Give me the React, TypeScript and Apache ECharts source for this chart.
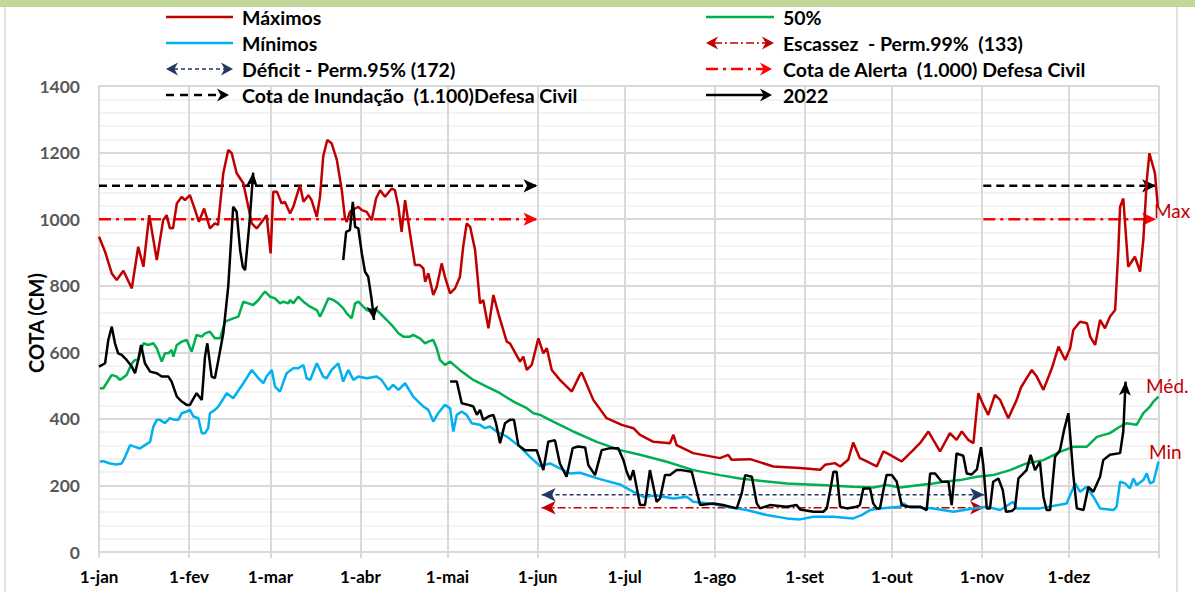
import React, { useEffect, useRef } from "react";
import * as echarts from "echarts";

// ---------- axis / categories ----------
const monthStarts = [0, 31, 59, 90, 120, 151, 181, 212, 243, 273, 304, 334];
const monthLabels = ["1-jan", "1-fev", "1-mar", "1-abr", "1-mai", "1-jun", "1-jul", "1-ago", "1-set", "1-out", "1-nov", "1-dez"];
const yearDays = 365;
const yMax = 1400;
const yStep = 200;

// ---------- series values: [day of year, cota (cm)] ----------
const maximos: [number, number][] = [
  [0, 947], [2.1, 902], [4.4, 837], [6.1, 817], [8.4, 845], [11.3, 792], [13.5, 917], [15.3, 857], [17.3, 1012], [19.9, 877],
  [22.1, 997], [23.3, 1012], [24.4, 973], [25.5, 973], [26.8, 1047], [28.5, 1067], [29.6, 1057], [31.3, 1072], [33.1, 1027], [34.4, 992],
  [36.2, 1032], [38.2, 972], [39.9, 987], [41, 983], [42.8, 1138], [44.5, 1208], [45.7, 1198], [47.4, 1138], [49.7, 1108], [51.4, 1037],
  [52.6, 987], [54.3, 972], [56.1, 992], [57.7, 1012], [59.1, 897], [60, 1082], [61.3, 1082], [62.9, 1047], [64, 1052], [65.8, 1017],
  [66.9, 1037], [69.2, 1102], [70.4, 1052], [72.1, 1072], [73.2, 1057], [75, 1007], [76.1, 1067], [77.2, 1188], [78.6, 1238], [80.1, 1228],
  [81.9, 1178], [83.6, 1087], [84.7, 1002], [85.3, 992], [86.4, 1022], [88.2, 1032], [89.3, 1037], [90.5, 1027], [92.2, 1022], [93.9, 997],
  [95.4, 1062], [96.8, 1087], [98.5, 1067], [100.8, 1092], [101.9, 1087], [103.1, 1037], [104.2, 962], [105.4, 1057], [107.1, 957], [108.8, 862],
  [110.5, 862], [111.7, 852], [112.3, 812], [113.4, 837], [115.1, 772], [116.3, 797], [118, 867], [119.1, 827], [120.9, 777], [122.6, 792],
  [124.3, 827], [125.4, 917], [126.6, 987], [127.8, 977], [129.5, 907], [131.2, 747], [132.3, 757], [134.1, 672], [135.8, 772], [137.5, 717],
  [140.4, 632], [141.5, 627], [145, 572], [146.1, 587], [147.3, 547], [149, 562], [151.3, 642], [153, 597], [154.2, 612], [155.9, 547],
  [158.7, 517], [162.8, 482], [165.6, 532], [166.2, 539], [170.2, 457], [174.8, 402], [180, 382], [184, 372], [186.3, 352], [190.9, 331],
  [196.6, 327], [197.8, 352], [198.9, 321], [204.6, 297], [213.8, 282], [216.7, 292], [217.8, 277], [224.2, 279], [232.2, 257], [241.4, 252],
  [248.3, 247], [250, 262], [253.4, 267], [255.2, 257], [258, 277], [259.7, 329], [262, 282], [264.4, 272], [267.8, 257], [270.1, 302],
  [272.4, 292], [276.4, 272], [279.9, 302], [282.7, 327], [285.6, 362], [289.6, 302], [293, 357], [295.3, 337], [297.1, 362], [299.3, 337],
  [301.1, 327], [302.8, 477], [304.5, 442], [306.2, 412], [308.5, 472], [310.3, 457], [313.1, 402], [316, 457], [317.5, 495], [321.2, 547],
  [322.9, 527], [325.2, 487], [328.1, 552], [330.4, 617], [332.7, 577], [334.4, 612], [335.5, 667], [337.8, 692], [340.2, 687], [341.3, 647],
  [343, 622], [344.7, 697], [346.4, 672], [348.1, 707], [349.9, 727], [351, 907], [351.6, 1037], [352.7, 1062], [354.4, 857], [356.7, 887],
  [358.5, 842], [359.6, 937], [360.8, 1117], [361.7, 1198], [363.6, 1138], [364.6, 1037],
];

const minimos: [number, number][] = [
  [0.3, 271], [1.5, 273], [3.8, 266], [6.1, 263], [7.8, 266], [9, 286], [10.7, 321], [12.4, 316], [14.1, 311], [15.8, 321],
  [17.6, 331], [18.7, 376], [19.9, 397], [21, 397], [22.7, 387], [24.4, 402], [26.2, 397], [27.3, 397], [28.5, 417], [30.2, 422],
  [31.3, 427], [32.5, 407], [34.2, 402], [35.4, 357], [36.5, 357], [37.6, 372], [38.2, 417], [39.9, 427], [41.1, 437], [44, 477],
  [46.2, 462], [49.7, 507], [52.6, 547], [54.9, 522], [56.6, 507], [57.7, 527], [59.5, 547], [60.6, 497], [62.3, 482], [64.6, 537],
  [66.9, 552], [68.6, 552], [70.4, 562], [71.5, 522], [72.7, 517], [75, 567], [77.2, 527], [78.4, 522], [80.1, 547], [82.4, 567],
  [84.1, 512], [85.8, 547], [87.6, 517], [89.3, 527], [92.2, 522], [95.6, 527], [97.3, 517], [99.6, 487], [101.3, 502], [103.1, 487],
  [105.4, 507], [108.2, 467], [111.7, 437], [113.4, 427], [115.1, 392], [116.8, 417], [119.1, 442], [120.9, 432], [122, 362], [123.2, 412],
  [124.9, 422], [126.6, 412], [128.3, 387], [131.2, 382], [132.9, 372], [134.6, 377], [136.9, 362], [140.4, 347], [145, 316], [148.4, 286],
  [151.9, 258], [155.3, 266], [158.7, 251], [162.2, 236], [165.6, 238], [172.5, 219], [179.4, 203], [182.9, 186], [187.4, 166], [192, 170],
  [197.8, 161], [202.4, 166], [204.6, 151], [210.4, 146], [216.1, 136], [223, 126], [229.9, 111], [236.8, 101], [241.4, 98], [246, 106],
  [252.9, 106], [259.7, 101], [262.6, 111], [265.5, 126], [268.9, 131], [275.8, 136], [277, 146], [278.7, 136], [287.3, 131], [294.2, 121],
  [301.1, 131], [305.7, 136], [310.3, 126], [314.8, 151], [316, 131], [324, 131], [333.2, 146], [336.1, 206], [337.8, 181], [340.1, 196],
  [342.4, 166], [344.7, 131], [349.3, 126], [350.4, 136], [351.6, 211], [353.3, 206], [355, 191], [356.2, 221], [357.3, 201], [359.6, 216],
  [360.8, 236], [361.9, 206], [363.1, 211], [364.8, 271],
];

const mediana: [number, number][] = [
  [0.3, 492], [1.5, 492], [4.4, 532], [6.1, 527], [7.2, 517], [9.5, 532], [11.3, 567], [12.4, 577], [13.5, 577], [15.3, 627],
  [17, 622], [18.7, 627], [19.9, 612], [21.6, 572], [22.7, 597], [23.9, 597], [25, 607], [25.6, 587], [26.8, 622], [28.5, 632],
  [30.2, 637], [31.9, 602], [33.6, 652], [35.4, 647], [36.5, 657], [38.2, 662], [39.9, 642], [41.7, 642], [43.4, 692], [46.2, 702],
  [48, 707], [49.7, 752], [51.4, 747], [53.1, 742], [54.9, 757], [56.6, 777], [57.2, 782], [58.9, 767], [60.6, 762], [62.3, 747],
  [63.5, 752], [65.2, 747], [65.8, 757], [66.9, 747], [68.6, 767], [70.4, 752], [72.7, 737], [75, 727], [76.1, 707], [77.2, 727],
  [79, 762], [80.7, 757], [82.4, 747], [84.1, 732], [85.3, 717], [87, 702], [88.2, 747], [89.3, 752], [91, 737], [92.2, 727],
  [93.9, 722], [95.6, 727], [96.8, 717], [99.1, 697], [101.3, 677], [103.1, 657], [104.8, 647], [107.1, 647], [108.2, 652], [110.5, 642],
  [112.3, 627], [113.4, 632], [115.1, 637], [116.3, 612], [117.4, 577], [119.1, 562], [120.9, 572], [124.9, 542], [128.9, 517], [133.5, 497],
  [138.1, 477], [142.7, 452], [147.3, 432], [149.6, 417], [151.9, 412], [156.4, 392], [161, 372], [163.3, 362], [171.4, 331], [179.4, 306],
  [186.3, 292], [195.5, 271], [204.6, 246], [213.8, 231], [220.7, 221], [225.3, 216], [236.8, 206], [248.3, 201], [259.7, 196], [266.6, 194],
  [271.2, 201], [275.8, 194], [282.7, 201], [287.3, 206], [290.8, 211], [296.5, 216], [302.3, 226], [307.9, 231], [313.7, 246], [319.4, 266],
  [325.2, 276], [330.9, 301], [335.5, 316], [340.1, 316], [343.6, 346], [348.1, 357], [351.6, 377], [353.9, 387], [357.3, 382], [359.6, 417],
  [361.9, 437], [363.1, 452], [364.8, 467],
];

const ano2022a: [number, number][] = [
  [0, 557], [2.1, 567], [3.2, 637], [4.4, 677], [5.5, 627], [6.6, 597], [7.8, 592], [9.5, 577], [11.3, 557], [12.4, 537],
  [13.5, 577], [14.5, 622], [15.8, 567], [17.6, 542], [19.9, 537], [21.6, 527], [23.9, 527], [25, 512], [26.8, 467], [28.5, 452],
  [30.2, 442], [31.3, 442], [33.6, 477], [35.4, 457], [36.5, 587], [37.3, 627], [38.8, 527], [39.9, 522], [41.1, 577], [42.8, 657],
  [44.5, 797], [46.2, 1037], [47.4, 1022], [48.6, 907], [49.5, 857], [50.3, 847], [51.8, 987], [53.1, 1140],
];

const ano2022b: [number, number][] = [
  [84.1, 877], [85.1, 962], [86.4, 967], [87.4, 1052], [88.2, 977], [89.3, 972], [90.5, 897], [91.6, 842], [92.7, 827], [93.9, 757],
  [94.7, 697],
];

const ano2022c: [number, number][] = [
  [120.9, 512], [123.2, 512], [124.9, 447], [127.2, 442], [128.9, 437], [130.1, 412], [131.2, 427], [132.3, 397], [134.1, 407], [135.8, 412],
  [136.7, 387], [138.1, 327], [139.8, 387], [141.5, 397], [142.9, 397], [144.4, 321], [146.7, 306], [150.7, 306], [153, 246], [154.7, 331],
  [157, 336], [158.7, 266], [161, 226], [163.1, 312], [165, 317], [167.4, 314], [168.5, 261], [170.8, 231], [173.1, 306], [176, 312],
  [178.8, 312], [180.6, 276], [181.7, 241], [182.9, 216], [184, 246], [186.3, 141], [188, 141], [189.7, 246], [192, 151], [193.2, 161],
  [194.9, 231], [196.6, 231], [198.9, 246], [200.6, 246], [204.1, 241], [207, 141], [211.6, 146], [214.9, 141], [219.6, 131], [221.3, 176],
  [222.5, 231], [224.8, 226], [226.5, 146], [227.6, 131], [231, 141], [236.8, 136], [240.2, 141], [241.4, 128], [246, 121], [249.4, 121],
  [250.6, 131], [251.7, 181], [252.9, 241], [254, 241], [255.2, 136], [257.5, 131], [260.9, 136], [262, 141], [263.2, 191], [265.5, 191],
  [266.6, 146], [267.8, 131], [268.9, 131], [270.1, 186], [271.2, 231], [273, 231], [274.7, 211], [276.4, 141], [278.7, 136], [282.7, 136],
  [285, 126], [286.2, 236], [287.9, 236], [290.2, 211], [292.5, 211], [293.6, 141], [295.3, 296], [297.6, 289], [298.8, 236], [300.5, 233],
  [302.3, 248], [303.7, 315], [304.5, 261], [305.7, 131], [306.8, 131], [307.9, 211], [309.7, 221], [311.2, 186], [312.3, 121], [314.3, 123],
  [315.4, 131], [316.6, 221], [318.3, 236], [319.4, 246], [320.8, 292], [322.3, 246], [324, 271], [325.2, 166], [326.3, 126], [327.5, 126],
  [329.2, 286], [330.9, 306], [332.3, 366], [333.8, 417], [335.5, 231], [336.7, 131], [339, 126], [340.7, 196], [342.4, 181], [344.7, 226],
  [345.8, 276], [348.1, 292], [351.6, 297], [352.7, 362], [353.5, 512],
];

// reference levels (cm) and their day spans
const cotaInundacao = 1100;
const cotaAlerta = 1000;
const deficit95 = 172;
const escassez99 = 133;
const cheiaSpans: [number, number][] = [[0, 151], [304.5, 364]];
const secaSpan: [number, number] = [152.4, 304.8];

// ---------- styles ----------
const FONT = "Lato";
const C_MAX = "#c00000";
const C_MIN = "#00b0f0";
const C_MED = "#00b050";
const C_DEF = "#1f3864";
const C_ESC = "#c00000";
const C_ALE = "#ff0000";
const DASH_DOT = [12, 5, 3, 5];

function levelLine(name: string, y: number, x0: number, x1: number, color: string, width: number, dash: any, startArrow: boolean, size: [number, number]) {
  return {
    type: "line",
    name,
    silent: true,
    z: 2,
    symbol: "none",
    showSymbol: true,
    lineStyle: { color, width, type: dash },
    itemStyle: { color },
    data: [
      startArrow
        ? { value: [x0, y], symbol: "arrow", symbolSize: size, symbolRotate: 90 }
        : { value: [x0, y], symbol: "none" },
      { value: [x1, y], symbol: "arrow", symbolSize: size, symbolRotate: -90 },
    ],
  };
}

function segment2022(data: [number, number][], rotate: number) {
  return {
    type: "line",
    name: "2022",
    z: 5,
    symbol: "none",
    showSymbol: true,
    lineStyle: { color: "#000", width: 2.5 },
    itemStyle: { color: "#000" },
    data: data.map((p, i) =>
      i === data.length - 1
        ? { value: p, symbol: "arrow", symbolSize: [9, 14], symbolRotate: rotate }
        : { value: p, symbol: "none" }
    ),
  };
}

function head(tipX: number, y: number, dir: number, color: string, len = 12, half = 6.5) {
  return {
    type: "polygon",
    silent: true,
    z: 100,
    shape: {
      points: [
        [tipX, y],
        [tipX - dir * len, y - half],
        [tipX - dir * len * 0.7, y],
        [tipX - dir * len, y + half],
      ],
    },
    style: { fill: color },
  };
}

function seg(x1: number, x2: number, y: number, color: string, width: number, dash?: number[]) {
  return {
    type: "line",
    silent: true,
    z: 100,
    shape: { x1, y1: y, x2, y2: y },
    style: { stroke: color, lineWidth: width, lineDash: dash },
  };
}

function legendText(x: number, y: number, text: string) {
  return {
    type: "text",
    x,
    y,
    silent: true,
    z: 100,
    style: { text, fill: "#000", fontFamily: FONT, fontWeight: "bold", fontSize: 19.5, align: "left", verticalAlign: "middle" },
  };
}

function sideLabel(x: number, y: number, text: string) {
  return {
    type: "text",
    x,
    y,
    silent: true,
    z: 100,
    style: { text, fill: C_MAX, fontFamily: FONT, fontSize: 19, align: "left", verticalAlign: "middle" },
  };
}

const rowsY = [17, 43, 69, 95];
const LX0 = 166, LX1 = 233, LT = 242;
const RX0 = 706, RX1 = 774, RT = 783;

const graphics: any[] = [
  { type: "rect", silent: true, shape: { x: 0, y: 0, width: 1195, height: 7 }, style: { fill: "#c4d79b" } },
  { type: "line", silent: true, shape: { x1: 5, y1: 7, x2: 5, y2: 592 }, style: { stroke: "#d9d9d9", lineWidth: 1.5 } },
  { type: "line", silent: true, shape: { x1: 1177, y1: 7, x2: 1177, y2: 592 }, style: { stroke: "#d9d9d9", lineWidth: 1.5 } },
  // left legend column
  seg(LX0, LX1, rowsY[0], C_MAX, 2.5),
  legendText(LT, rowsY[0], "Máximos"),
  seg(LX0, LX1, rowsY[1], C_MIN, 2.5),
  legendText(LT, rowsY[1], "Mínimos"),
  seg(LX0 + 8, LX1 - 8, rowsY[2], C_DEF, 1.3, [4, 3]),
  head(LX0, rowsY[2], -1, C_DEF),
  head(LX1, rowsY[2], 1, C_DEF),
  legendText(LT, rowsY[2], "Déficit - Perm.95% (172)"),
  seg(LX0, LX1 - 8, rowsY[3], "#000", 2.5, [8, 6]),
  head(LX1 - 4, rowsY[3], 1, "#000"),
  legendText(LT, rowsY[3], "Cota de Inundação  (1.100)Defesa Civil"),
  // right legend column
  seg(RX0, RX1, rowsY[0], C_MED, 2.5),
  legendText(RT, rowsY[0], "50%"),
  seg(RX0 + 8, RX1 - 8, rowsY[1], C_ESC, 1.3, [8, 3, 2, 3]),
  head(RX0, rowsY[1], -1, C_ESC),
  head(RX1, rowsY[1], 1, C_ESC),
  legendText(RT, rowsY[1], "Escassez  - Perm.99%  (133)"),
  seg(RX0, RX1 - 8, rowsY[2], C_ALE, 2.5, DASH_DOT),
  head(RX1 - 2, rowsY[2], 1, C_ALE),
  legendText(RT, rowsY[2], "Cota de Alerta  (1.000) Defesa Civil"),
  seg(RX0, RX1 - 8, rowsY[3], "#000", 2.5),
  head(RX1 - 2, rowsY[3], 1, "#000"),
  legendText(RT, rowsY[3], "2022"),
  // y axis title
  {
    type: "text",
    x: 36,
    y: 323,
    rotation: Math.PI / 2,
    silent: true,
    z: 100,
    style: { text: "COTA (CM)", fill: "#000", fontFamily: FONT, fontWeight: "bold", fontSize: 20, align: "center", verticalAlign: "middle" },
  },
  sideLabel(1154, 210, "Max"),
  sideLabel(1146, 385, "Méd."),
  sideLabel(1149, 451, "Min"),
];

const option: any = {
  animation: false,
  backgroundColor: "#ffffff",
  grid: { left: 99, top: 86, right: 36, bottom: 40, containLabel: false },
  xAxis: {
    type: "value",
    min: 0,
    max: yearDays,
    axisLine: { show: true, lineStyle: { color: "#d9d9d9", width: 2 } },
    axisTick: { show: true, length: 6, lineStyle: { color: "#d9d9d9", width: 2 }, customValues: [...monthStarts, yearDays] },
    axisLabel: {
      customValues: monthStarts,
      formatter: (v: number) => {
        const i = monthStarts.indexOf(Math.round(v));
        return i >= 0 ? monthLabels[i] : "";
      },
      color: "#000",
      fontFamily: FONT,
      fontWeight: "bold",
      fontSize: 17,
      margin: 16,
    },
    splitLine: { show: true, lineStyle: { color: "#d9d9d9", width: 2 } },
  },
  yAxis: {
    type: "value",
    min: 0,
    max: yMax,
    interval: yStep,
    axisLine: { show: true, lineStyle: { color: "#d9d9d9", width: 2 } },
    axisTick: { show: false },
    axisLabel: {
      formatter: (v: number) => String(v),
      color: "#595959",
      fontFamily: FONT,
      fontWeight: "bold",
      fontSize: 17.5,
      margin: 19,
    },
    splitLine: { show: true, lineStyle: { color: "#d9d9d9", width: 2 } },
    minorTick: { show: false, splitNumber: 5 },
    minorSplitLine: { show: true, lineStyle: { color: "#efefef", width: 1.5 } },
  },
  graphic: graphics,
  series: [
    ...cheiaSpans.map((s) => levelLine("Cota de Inundação (1.100) Defesa Civil", cotaInundacao, s[0], s[1], "#000", 2.5, [8, 5], false, [10, 14])),
    ...cheiaSpans.map((s) => levelLine("Cota de Alerta (1.000) Defesa Civil", cotaAlerta, s[0], s[1], C_ALE, 2.5, DASH_DOT, false, [10, 14])),
    levelLine("Déficit - Perm.95% (172)", deficit95, secaSpan[0], secaSpan[1], C_DEF, 1.3, [4, 3], true, [10, 14]),
    levelLine("Escassez - Perm.99% (133)", escassez99, secaSpan[0], secaSpan[1], C_ESC, 1.3, [8, 3, 2, 3], true, [10, 14]),
    { type: "line", name: "50%", data: mediana, symbol: "none", z: 3, lineStyle: { color: C_MED, width: 2.5 }, itemStyle: { color: C_MED } },
    { type: "line", name: "Mínimos", data: minimos, symbol: "none", z: 3, lineStyle: { color: C_MIN, width: 2.5 }, itemStyle: { color: C_MIN } },
    { type: "line", name: "Máximos", data: maximos, symbol: "none", z: 3, lineStyle: { color: C_MAX, width: 2.5 }, itemStyle: { color: C_MAX } },
    segment2022(ano2022a, -5),
    segment2022(ano2022b, 187),
    segment2022(ano2022c, -3),
  ],
};

export default function App() {
  const ref = useRef<HTMLDivElement>(null);
  useEffect(() => {
    if (!ref.current) return;
    const chart = echarts.init(ref.current, null, { renderer: "svg" });
    chart.setOption(option);
    return () => chart.dispose();
  }, []);
  return (
    <div
      ref={ref}
      style={{ position: "absolute", left: 0, top: 0, width: 1195, height: 592, background: "#fff" }}
    />
  );
}
